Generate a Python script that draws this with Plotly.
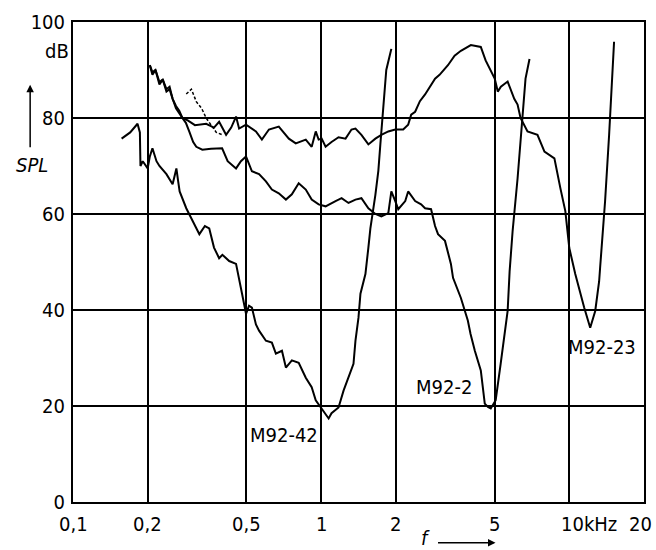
import math
import plotly.graph_objects as go

# ---- data (frequency in kHz, SPL in dB) ----
f_m42 = [0.157, 0.170, 0.182, 0.186, 0.187, 0.191, 0.200, 0.204, 0.209, 0.217, 0.223, 0.238, 0.252,
         0.261, 0.265, 0.269, 0.286, 0.300, 0.323, 0.340, 0.354, 0.370, 0.388, 0.400, 0.426, 0.454,
         0.467, 0.480, 0.498, 0.512, 0.526, 0.546, 0.562, 0.599, 0.633, 0.657, 0.695, 0.721, 0.762,
         0.812, 0.867, 0.916, 0.951, 1.005, 1.072, 1.101, 1.175, 1.231, 1.289, 1.350, 1.375, 1.414,
         1.440, 1.481, 1.508, 1.550, 1.579, 1.654, 1.700, 1.732, 1.781, 1.830, 1.890, 1.918]
spl_m42 = [75.7, 77.0, 78.8, 77.0, 70.0, 71.0, 69.5, 72.0, 73.7, 71.0, 70.0, 68.3, 66.2,
           69.5, 67.0, 64.7, 61.2, 59.0, 55.8, 57.5, 57.0, 53.0, 50.8, 51.5, 50.2, 49.6,
           46.7, 43.4, 39.2, 40.9, 40.5, 37.0, 35.7, 33.6, 33.2, 30.9, 31.5, 28.0, 29.5,
           29.0, 25.9, 23.9, 21.2, 19.5, 17.4, 18.5, 19.7, 23.2, 25.9, 28.8, 33.6, 38.4,
           43.4, 46.0, 47.5, 53.0, 57.0, 64.0, 69.0, 74.5, 83.4, 90.0, 93.0, 94.4]

f_m2 = [0.204, 0.209, 0.215, 0.223, 0.230, 0.238, 0.245, 0.252, 0.260, 0.268, 0.276, 0.285, 0.294,
        0.305, 0.314, 0.332, 0.360, 0.399, 0.420, 0.454, 0.475, 0.498, 0.526, 0.562, 0.599, 0.633,
        0.675, 0.721, 0.762, 0.812, 0.867, 0.916, 0.977, 1.042, 1.143, 1.209, 1.289, 1.375, 1.453,
        1.550, 1.654, 1.748, 1.865, 1.918, 1.989, 2.045, 2.182, 2.242, 2.392, 2.528, 2.623, 2.773,
        2.877, 2.958, 3.155, 3.334, 3.400, 3.657, 3.900, 4.000, 4.162, 4.399, 4.564, 4.700, 4.825,
        5.051, 5.289, 5.643, 5.747, 5.909, 6.188, 6.479, 6.662, 6.913]
spl_m2 = [91.0, 89.0, 90.0, 87.0, 88.0, 85.5, 86.0, 84.0, 82.5, 81.5, 80.0, 79.0, 77.2,
          75.0, 74.0, 73.4, 73.6, 73.7, 71.0, 69.5, 71.0, 72.0, 68.9, 68.3, 66.8, 65.1,
          64.3, 63.0, 64.1, 66.4, 65.1, 63.0, 62.0, 61.6, 62.7, 63.3, 62.3, 63.0, 63.3,
          61.2, 60.0, 59.5, 60.2, 64.7, 62.7, 61.0, 62.7, 64.7, 62.7, 62.0, 61.2, 61.0,
          57.5, 55.8, 54.4, 49.6, 46.7, 42.5, 37.8, 35.0, 31.5, 27.4, 20.5, 19.8, 19.5,
          21.2, 28.8, 39.8, 48.0, 56.4, 67.4, 80.0, 88.2, 92.3]

f_m23 = [0.204, 0.209, 0.215, 0.223, 0.230, 0.238, 0.245, 0.252, 0.260, 0.268, 0.276, 0.290, 0.310,
         0.344, 0.370, 0.388, 0.414, 0.434, 0.454, 0.467, 0.498, 0.546, 0.577, 0.616, 0.675, 0.741,
         0.790, 0.867, 0.916, 0.951, 0.977, 1.005, 1.042, 1.101, 1.175, 1.254, 1.325, 1.375, 1.453,
         1.550, 1.654, 1.748, 1.865, 1.989, 2.141, 2.242, 2.306, 2.392, 2.500, 2.623, 2.700,
         2.877, 3.000, 3.243, 3.450, 3.657, 4.011, 4.200, 4.399, 4.600, 4.800, 5.005, 5.150, 5.300,
         5.643, 6.000, 6.188, 6.361, 6.786, 7.442, 7.940, 8.708, 9.204, 9.638, 10.00, 10.57, 11.48,
         12.14, 12.72, 13.19, 13.31, 13.94, 14.47, 14.87, 15.15]
spl_m23 = [91.0, 89.5, 90.0, 87.5, 88.0, 86.0, 86.5, 84.0, 82.0, 81.0, 80.0, 79.5, 78.5,
           78.8, 78.0, 79.2, 76.5, 78.0, 80.3, 77.8, 78.6, 77.2, 75.5, 77.6, 78.2, 75.7,
           74.7, 75.5, 74.0, 77.2, 75.5, 75.7, 74.0, 75.0, 76.0, 75.7, 77.6, 77.8, 76.5,
           74.5, 75.7, 76.5, 77.2, 77.6, 77.6, 78.6, 80.7, 81.3, 83.5, 84.9, 86.0,
           88.2, 89.0, 91.0, 93.0, 94.0, 95.2, 95.0, 94.8, 92.0, 90.2, 88.2, 85.5, 86.5,
           87.6, 84.0, 82.8, 80.0, 77.2, 76.5, 73.0, 71.6, 65.4, 60.6, 52.9, 47.5, 40.5,
           36.3, 39.8, 46.0, 48.8, 62.7, 76.5, 88.2, 95.9]

f_dash = [0.286, 0.300, 0.314, 0.330, 0.344, 0.360, 0.378, 0.400]
spl_dash = [85.0, 86.0, 83.4, 82.0, 80.0, 78.5, 77.0, 76.5]

x_ticks = [0.1, 0.2, 0.5, 1, 2, 5, 10, 20]
x_tick_text = ["0,1", "0,2", "0,5", "1", "2", "5", "10kHz", "20"]
y_ticks = [0, 20, 40, 60, 80, 100]
y_tick_text = ["0", "20", "40", "60", "80", "100"]

labels = ["M92-42", "M92-2", "M92-23"]
label_f = [0.707, 3.13, 13.56]
label_spl = [13.9, 23.9, 32.2]

FONT = "DejaVu Sans Condensed, Liberation Sans Narrow, Arial Narrow, sans-serif"
TXT = dict(family=FONT, size=20, color="black")

fig = go.Figure()
line = dict(color="black", width=2)
fig.add_trace(go.Scatter(x=f_m42, y=spl_m42, mode="lines", line=line, showlegend=False))
fig.add_trace(go.Scatter(x=f_m2, y=spl_m2, mode="lines", line=line, showlegend=False))
fig.add_trace(go.Scatter(x=f_m23, y=spl_m23, mode="lines", line=line, showlegend=False))
fig.add_trace(go.Scatter(x=f_dash, y=spl_dash, mode="lines",
                         line=dict(color="black", width=1.5, dash="3px,2px"), showlegend=False))

for t, xv, yv in zip(labels, label_f, label_spl):
    fig.add_annotation(x=math.log10(xv), y=yv, text=t, showarrow=False,
                       xanchor="center", yanchor="middle", font=TXT)

for xv, t in zip(x_ticks, x_tick_text):
    kw = dict(xanchor="center", xshift=0)
    if t == "10kHz":
        kw = dict(xanchor="left", xshift=-10)
    elif t == "20":
        kw = dict(xanchor="center", xshift=-4)
    fig.add_annotation(x=math.log10(xv), y=0, yref="y", text=t, showarrow=False,
                       yanchor="top", yshift=-8, font=TXT, **kw)

# unit and axis labels
fig.add_annotation(xref="paper", yref="paper", x=-0.004, y=0.94, text="dB", showarrow=False,
                   xanchor="right", yanchor="middle", font=TXT)
fig.add_annotation(xref="paper", yref="paper", x=(32 - 73) / 573, y=(502 - 164) / 482,
                   text="<i>SPL</i>", showarrow=False, xanchor="center", yanchor="middle",
                   font=TXT)
fig.add_annotation(xref="paper", yref="paper", x=(30 - 73) / 573, y=(502 - 83) / 482, text="",
                   showarrow=True, ax=0, ay=64, arrowhead=2, arrowsize=1, arrowwidth=1.5,
                   arrowcolor="black")
fig.add_annotation(xref="paper", yref="paper", x=(427 - 73) / 573, y=(502 - 538) / 482,
                   text="<i>f</i>", showarrow=False, xanchor="center", yanchor="middle",
                   font=TXT)
fig.add_annotation(xref="paper", yref="paper", x=(497 - 73) / 573, y=(502 - 543) / 482, text="",
                   showarrow=True, ax=-59, ay=0, arrowhead=2, arrowsize=1, arrowwidth=1.5,
                   arrowcolor="black")

fig.update_layout(
    width=656, height=550,
    margin=dict(l=73, r=10, t=20, b=48),
    paper_bgcolor="white", plot_bgcolor="white",
    font=TXT,
    xaxis=dict(type="log", range=[-1, math.log10(20)], tickvals=x_ticks,
               showticklabels=False, ticks="", showgrid=True, gridcolor="black", gridwidth=1.5,
               showline=True, linecolor="black", linewidth=2, mirror=True, zeroline=False),
    yaxis=dict(range=[0, 100], tickvals=y_ticks, ticktext=y_tick_text, ticks="",
               ticklabelstandoff=2, showgrid=True, gridcolor="black", gridwidth=1.5,
               showline=True, linecolor="black", linewidth=2, mirror=True, zeroline=False,
               tickfont=TXT),
)

fig.write_html("out.html", config={"displayModeBar": False},
               post_script="document.body.style.margin='0';")
